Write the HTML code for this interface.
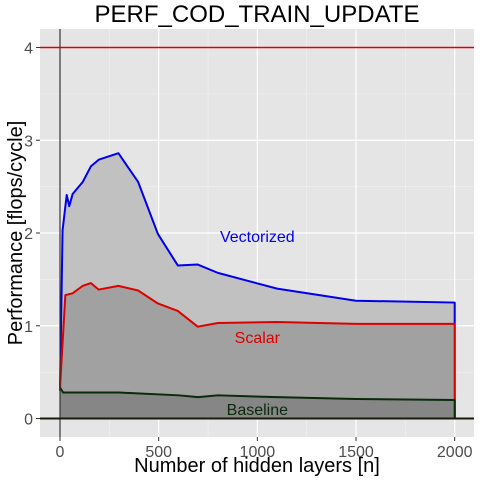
<!DOCTYPE html>
<html><head><meta charset="utf-8"><style>
body{margin:0;background:#fff;}
svg{display:block;font-family:"Liberation Sans",sans-serif;}
</style></head><body>
<svg id="chart" width="480" height="480" xmlns="http://www.w3.org/2000/svg"></svg>
<script>
const vecN=[0,13,34,47,64,115,157,196,296,396,496,597,698,800,1100,1500,2000];
const vecV=[0.3,2.03,2.41,2.29,2.42,2.55,2.72,2.79,2.86,2.55,1.99,1.65,1.66,1.57,1.40,1.27,1.25];
const scaN=[0,1,27,64,115,157,196,296,396,496,597,698,800,1100,1500,2000];
const scaV=[0.3,0.37,1.33,1.35,1.43,1.46,1.39,1.43,1.38,1.24,1.16,0.99,1.03,1.04,1.02,1.02];
const basN=[0,1,16,100,300,600,700,800,1100,1500,2000];
const basV=[0.33,0.33,0.28,0.28,0.28,0.25,0.23,0.25,0.23,0.21,0.20];
const xTicks=[0,500,1000,1500,2000];
const yTicks=[0,1,2,3,4];
const peakLine=4;
const NS="http://www.w3.org/2000/svg";
const svg=document.getElementById('chart');
const L=40,R=474,T=29,B=437;
const X=v=>60+v*0.19735;
const Y=v=>418.5-v*92.75;
function mk(tag,attrs,parent){const e=document.createElementNS(NS,tag);for(const k in attrs)e.setAttribute(k,attrs[k]);(parent||svg).appendChild(e);return e;}
let e=mk('rect',{x:L,y:T,width:R-L,height:B-T,fill:'#e5e5e5'});


for(let i=0;i<xTicks.length-1;i++){const m=(xTicks[i]+xTicks[i+1])/2;e=mk('line',{x1:X(m),x2:X(m),y1:T,y2:B,stroke:'#f2f2f2','stroke-width':0.6});}
for(let i=0;i<yTicks.length-1;i++){const m=(yTicks[i]+yTicks[i+1])/2;e=mk('line',{x1:L,x2:R,y1:Y(m),y2:Y(m),stroke:'#f2f2f2','stroke-width':0.6});}
xTicks.forEach(t=>{e=mk('line',{x1:X(t),x2:X(t),y1:T,y2:B,stroke:'#fff','stroke-width':1.2});
e=mk('line',{x1:X(t),x2:X(t),y1:B,y2:B+4,stroke:'#333','stroke-width':1});
e=mk('text',{x:X(t),y:B+20,'text-anchor':'middle','font-size':16,fill:'#4d4d4d'});e.textContent=t;});
yTicks.forEach(t=>{e=mk('line',{x1:L,x2:R,y1:Y(t),y2:Y(t),stroke:'#fff','stroke-width':1.2});
e=mk('line',{x1:L-4,x2:L,y1:Y(t),y2:Y(t),stroke:'#333','stroke-width':1});
e=mk('text',{x:L-7,y:Y(t)+6,'text-anchor':'end','font-size':16,fill:'#4d4d4d'});e.textContent=t;});
function area(N,V,fill,stroke,name){
 let d='M'+X(N[0])+','+Y(0);
 N.forEach((n,i)=>d+=' L'+X(n)+','+Y(V[i]));
 d+=' L'+X(N[N.length-1])+','+Y(0)+' Z';
 e=mk('path',{d:d,fill:fill,stroke:'none'});
 
 let l='M'+X(N[0])+','+Y(V[0]);
 N.forEach((n,i)=>l+=' L'+X(n)+','+Y(V[i]));
 l+=' L'+X(N[N.length-1])+','+Y(0);
 e=mk('path',{d:l,fill:'none',stroke:stroke,'stroke-width':2,'stroke-linejoin':'round'});
 
}
area(vecN,vecV,'#c1c1c1','#0000ee','vectorized');
area(scaN,scaV,'#a1a1a1','#dd0000','scalar');
area(basN,basV,'#868686','#0a2a0a','baseline');
e=mk('line',{x1:X(0),x2:X(0),y1:T,y2:B,stroke:'#333','stroke-width':1.2});
e=mk('line',{x1:L,x2:R,y1:Y(0),y2:Y(0),stroke:'#1a1a0a','stroke-width':2});
e=mk('line',{x1:L,x2:R,y1:Y(peakLine),y2:Y(peakLine),stroke:'#e00000','stroke-width':1.5});
function lab(x,y,t,c,name){e=mk('text',{x:x,y:y,'text-anchor':'middle','font-size':16,fill:c});e.textContent=t;}
lab(X(1000),Y(1.97)+6,'Vectorized','#0000ee','vectorized-label');
lab(X(1000),Y(0.88)+6,'Scalar','#dd0000','scalar-label');
lab(X(1000),Y(0.1)+6,'Baseline','#0a2a0a','baseline-label');
e=mk('text',{x:257,y:22,'text-anchor':'middle','font-size':24,fill:'#000'});e.textContent='PERF_COD_TRAIN_UPDATE';
e=mk('text',{x:257,y:472,'text-anchor':'middle','font-size':20,fill:'#000'});e.textContent='Number of hidden layers [n]';
e=mk('text',{x:0,y:0,'text-anchor':'middle','font-size':20,fill:'#000',transform:'translate(22,233) rotate(-90)'});e.textContent='Performance [flops/cycle]';
</script>
</body></html>
